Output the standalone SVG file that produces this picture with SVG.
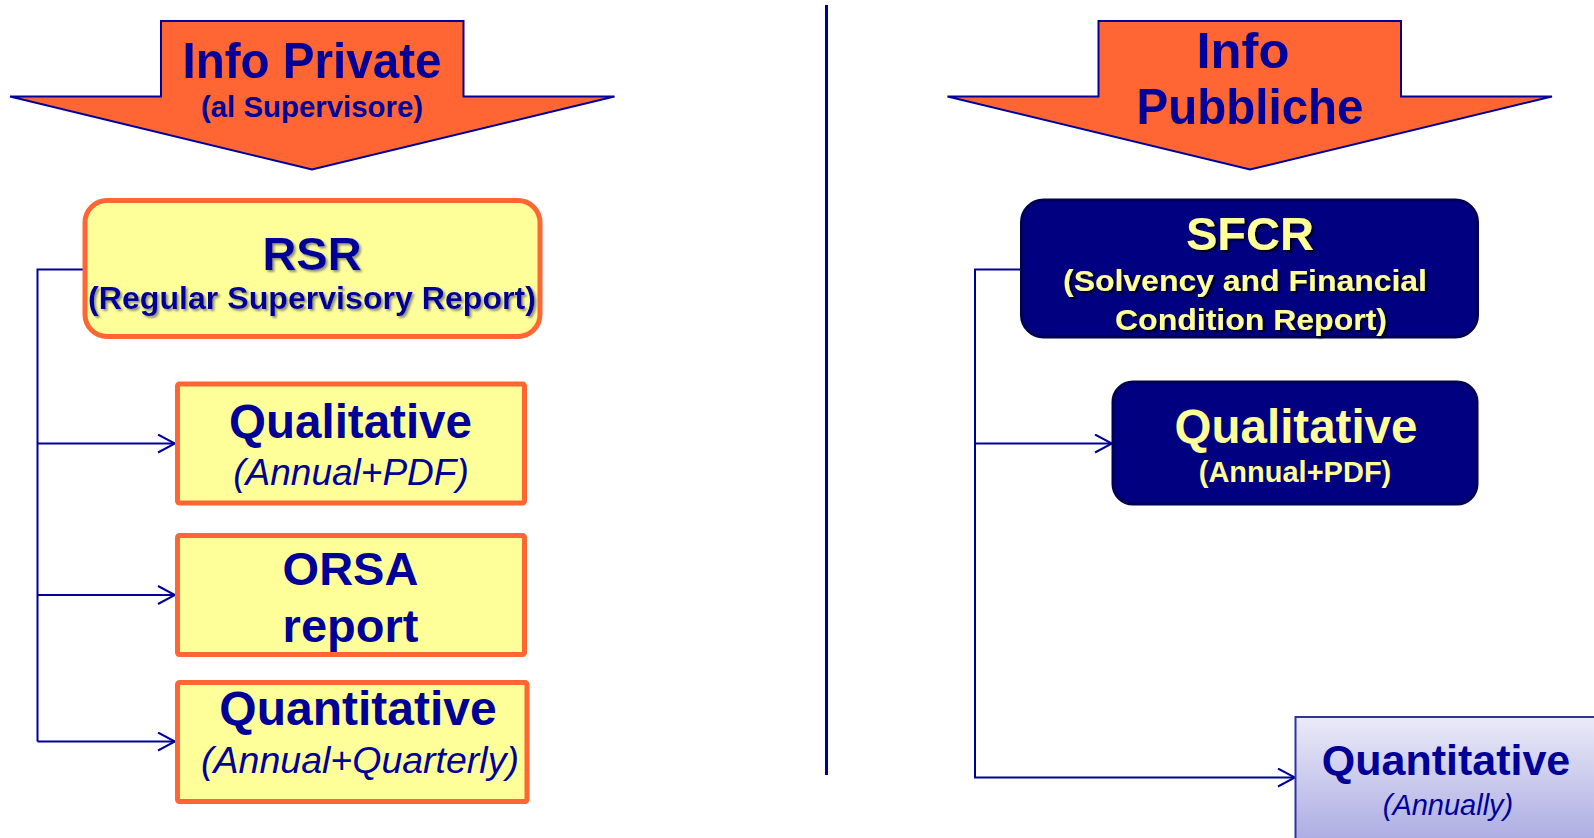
<svg xmlns="http://www.w3.org/2000/svg" width="1594" height="838" viewBox="0 0 1594 838">
<defs>
<style>
.t{font-family:"Liberation Sans",Arial,sans-serif;font-weight:bold;text-anchor:middle}
.it{font-family:"Liberation Sans",Arial,sans-serif;font-style:italic;text-anchor:middle}
.blue{fill:#000099}
.yel{fill:#FFFF99}
.arrowShape{fill:#FF6633;stroke:#000099;stroke-width:2;stroke-linejoin:miter}
.ybox{fill:#FFFF99;stroke:#FF6633;stroke-width:5}
.nbox{fill:#000080;stroke:#000055;stroke-width:3}
.conn{fill:none;stroke:#000099;stroke-width:2}
</style>
<marker id="arr" viewBox="0 0 20 20" refX="18" refY="10" markerWidth="20" markerHeight="20" markerUnits="userSpaceOnUse" orient="auto">
<path d="M1,1 L18,10 L1,19" fill="none" stroke="#000099" stroke-width="2"/>
</marker>
<filter id="sh" x="-10%" y="-30%" width="120%" height="160%">
<feDropShadow dx="2" dy="2" stdDeviation="1" flood-color="#777777" flood-opacity="0.8"/>
</filter>
<filter id="shd" x="-10%" y="-30%" width="120%" height="160%">
<feDropShadow dx="2" dy="2" stdDeviation="1" flood-color="#000000" flood-opacity="0.9"/>
</filter>
<linearGradient id="lav" x1="0" y1="0" x2="0" y2="1">
<stop offset="0" stop-color="#EAEAF8"/>
<stop offset="1" stop-color="#A4A4E0"/>
</linearGradient>
</defs>
<rect width="1594" height="838" fill="#FFFFFF"/>

<g id="divider">
<line x1="826.5" y1="5" x2="826.5" y2="775" stroke="#000099" stroke-width="3"/>
</g>

<g id="connectors">
<polyline class="conn" points="85,269.5 37.5,269.5 37.5,741.5"/>
<line class="conn" x1="37.5" y1="443.5" x2="175" y2="443.5" marker-end="url(#arr)"/>
<line class="conn" x1="37.5" y1="595" x2="175" y2="595" marker-end="url(#arr)"/>
<line class="conn" x1="37.5" y1="741.5" x2="175" y2="741.5" marker-end="url(#arr)"/>
<polyline class="conn" points="1021,269.5 975,269.5 975,777.5 1295,777.5" marker-end="url(#arr)"/>
<line class="conn" x1="975" y1="443.5" x2="1112" y2="443.5" marker-end="url(#arr)"/>
</g>

<g id="info-private">
<polygon class="arrowShape" points="161,21 463.5,21 463.5,96.5 614.5,96.5 312,169.5 10,96.5 161,96.5"/>
<text class="t blue" x="312" y="78" font-size="50" textLength="259" lengthAdjust="spacingAndGlyphs">Info Private</text>
<text class="t blue" x="312" y="117" font-size="29" textLength="222" lengthAdjust="spacingAndGlyphs">(al Supervisore)</text>
</g>

<g id="info-pubbliche">
<polygon class="arrowShape" points="1098.5,21 1401,21 1401,96.5 1552,96.5 1250,169.5 947.5,96.5 1098.5,96.5"/>
<text class="t blue" x="1243" y="68" font-size="50" textLength="93" lengthAdjust="spacingAndGlyphs">Info</text>
<text class="t blue" x="1250" y="124" font-size="50" textLength="227" lengthAdjust="spacingAndGlyphs">Pubbliche</text>
</g>

<g id="rsr">
<rect class="ybox" x="85" y="200.5" width="455" height="136" rx="22"/>
<text class="t blue" x="312" y="270" font-size="47" filter="url(#sh)">RSR</text>
<text class="t blue" x="312" y="309" font-size="32" textLength="448" lengthAdjust="spacingAndGlyphs" filter="url(#sh)">(Regular Supervisory Report)</text>
</g>

<g id="qualitative-private">
<rect class="ybox" x="177.5" y="384" width="347" height="119" rx="2"/>
<text class="t blue" x="350.5" y="438" font-size="47.5">Qualitative</text>
<text class="it blue" x="351" y="485" font-size="37">(Annual+PDF)</text>
</g>

<g id="orsa">
<rect class="ybox" x="177.5" y="535.5" width="347" height="119" rx="2"/>
<text class="t blue" x="350.5" y="585" font-size="47">ORSA</text>
<text class="t blue" x="350.5" y="641.5" font-size="47">report</text>
</g>

<g id="quantitative-private">
<rect class="ybox" x="177.5" y="682.5" width="349.5" height="119" rx="2"/>
<text class="t blue" x="358" y="725" font-size="48">Quantitative</text>
<text class="it blue" x="360" y="773" font-size="37.5">(Annual+Quarterly)</text>
</g>

<g id="sfcr">
<rect class="nbox" x="1021.5" y="200" width="456" height="137" rx="22"/>
<text class="t yel" x="1250" y="250" font-size="47" filter="url(#shd)">SFCR</text>
<text class="t yel" x="1245" y="291" font-size="30" textLength="364" lengthAdjust="spacingAndGlyphs" filter="url(#shd)">(Solvency and Financial</text>
<text class="t yel" x="1251" y="329.5" font-size="30" textLength="272" lengthAdjust="spacingAndGlyphs" filter="url(#shd)">Condition Report)</text>
</g>

<g id="qualitative-public">
<rect class="nbox" x="1113" y="382" width="364" height="122" rx="20"/>
<text class="t yel" x="1296" y="443" font-size="47.5">Qualitative</text>
<text class="t yel" x="1295" y="481.5" font-size="29">(Annual+PDF)</text>
</g>

<g id="quantitative-public">
<rect x="1295.5" y="717" width="330" height="140" fill="url(#lav)" stroke="#333399" stroke-width="2"/>
<text class="t blue" x="1446" y="775" font-size="43">Quantitative</text>
<text class="it blue" x="1448" y="815" font-size="29">(Annually)</text>
</g>
</svg>
